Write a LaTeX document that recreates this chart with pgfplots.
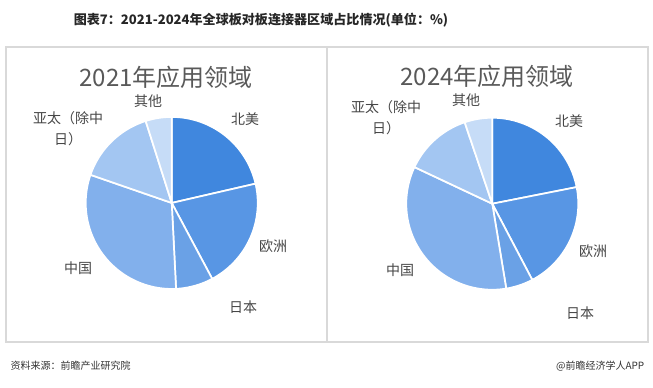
\documentclass[border=0pt]{standalone}
\usepackage{pgfplots}
\pgfplotsset{compat=1.18}
\usepackage{fontspec}
\setmainfont{Noto Sans CJK SC}
\definecolor{cNA}{RGB}{64,135,222}
\definecolor{cEU}{RGB}{88,150,228}
\definecolor{cJP}{RGB}{106,161,230}
\definecolor{cCN}{RGB}{130,176,236}
\definecolor{cAP}{RGB}{163,198,242}
\definecolor{cOT}{RGB}{198,220,247}
\definecolor{lbl}{RGB}{70,70,70}
\definecolor{ttl}{RGB}{89,89,89}
\definecolor{frame}{RGB}{217,217,217}
\newcommand\pieslice[3]{%
  \addplot[fill=#3, draw=white, line width=1.3pt, domain=#2:#1, samples=90, variable=\t]
    ({cos(\t)},{sin(\t)}) -- (axis cs:0,0) -- cycle;}
\pgfplotsset{piestyle/.style={hide axis, scale only axis, width=129pt, height=129pt,
  xmin=-1, xmax=1, ymin=-1, ymax=1, clip=false, anchor=center}}
% 2021 shares (%): North America, Europe, Japan, China, Asia-Pacific (ex. CN/JP), Other
\def\NAa{21.4}\def\EUa{20.8}\def\JPa{7.0}\def\CNa{31.1}\def\APa{14.8}\def\OTa{4.9}
% 2024 shares (%)
\def\NAb{21.9}\def\EUb{20.4}\def\JPb{5.1}\def\CNb{34.6}\def\APb{12.8}\def\OTb{5.2}
\pgfmathsetmacro\aone{90}
\pgfmathsetmacro\atwo{\aone-3.6*\NAa}
\pgfmathsetmacro\athree{\atwo-3.6*\EUa}
\pgfmathsetmacro\afour{\athree-3.6*\JPa}
\pgfmathsetmacro\afive{\afour-3.6*\CNa}
\pgfmathsetmacro\asix{\afive-3.6*\APa}
\pgfmathsetmacro\aseven{\asix-3.6*\OTa}
\pgfmathsetmacro\bone{90}
\pgfmathsetmacro\btwo{\bone-3.6*\NAb}
\pgfmathsetmacro\bthree{\btwo-3.6*\EUb}
\pgfmathsetmacro\bfour{\bthree-3.6*\JPb}
\pgfmathsetmacro\bfive{\bfour-3.6*\CNb}
\pgfmathsetmacro\bsix{\bfive-3.6*\APb}
\pgfmathsetmacro\bseven{\bsix-3.6*\OTb}
\begin{document}
\begin{tikzpicture}
\begin{scope}[x=0.75pt,y=-0.75pt]
\draw[frame, line width=0.8pt] (6,47) rectangle (327,342);
\draw[frame, line width=0.8pt] (327,47) rectangle (648,342);
\node[font=\bfseries\fontsize{9.8}{12}\selectfont, text=black!85] at (261,20)
  {图表7：2021-2024年全球板对板连接器区域占比情况(单位：\%)};
\node[font=\fontsize{7.5}{9}\selectfont, text=black!80, anchor=west] at (6,366) {资料来源：前瞻产业研究院};
\node[font=\fontsize{7.5}{9}\selectfont, text=black!80, anchor=east] at (649,366) {@前瞻经济学人APP};
% panel titles
\node[font=\fontsize{18}{20}\selectfont, text=ttl] at (166,77) {2021年应用领域};
\node[font=\fontsize{18}{20}\selectfont, text=ttl] at (487,76) {2024年应用领域};
\begin{scope}[every node/.style={font=\fontsize{10.5}{16}\selectfont, text=lbl, align=center}]
% labels 2021
\node at (245,119) {北美};
\node at (273,246) {欧洲};
\node at (243,307) {日本};
\node at (78,268) {中国};
\node at (68,129) {亚太（除中\\日）};
\node at (148,101) {其他};
% labels 2024
\node at (569,121) {北美};
\node at (593,251) {欧洲};
\node at (580,313) {日本};
\node at (400,270) {中国};
\node at (386,117.5) {亚太（除中\\日）};
\node at (466,100) {其他};
\end{scope}
\end{scope}
\begin{axis}[piestyle, at={(128.8pt,-152.2pt)}]
\pieslice{\aone}{\atwo}{cNA}
\pieslice{\atwo}{\athree}{cEU}
\pieslice{\athree}{\afour}{cJP}
\pieslice{\afour}{\afive}{cCN}
\pieslice{\afive}{\asix}{cAP}
\pieslice{\asix}{\aseven}{cOT}
\end{axis}
\begin{axis}[piestyle, at={(369.2pt,-152.8pt)}]
\pieslice{\bone}{\btwo}{cNA}
\pieslice{\btwo}{\bthree}{cEU}
\pieslice{\bthree}{\bfour}{cJP}
\pieslice{\bfour}{\bfive}{cCN}
\pieslice{\bfive}{\bsix}{cAP}
\pieslice{\bsix}{\bseven}{cOT}
\end{axis}
\pgfresetboundingbox
\path[use as bounding box] (0pt,0pt) rectangle (489.75pt,-290.25pt);
\end{tikzpicture}%
\end{document}
